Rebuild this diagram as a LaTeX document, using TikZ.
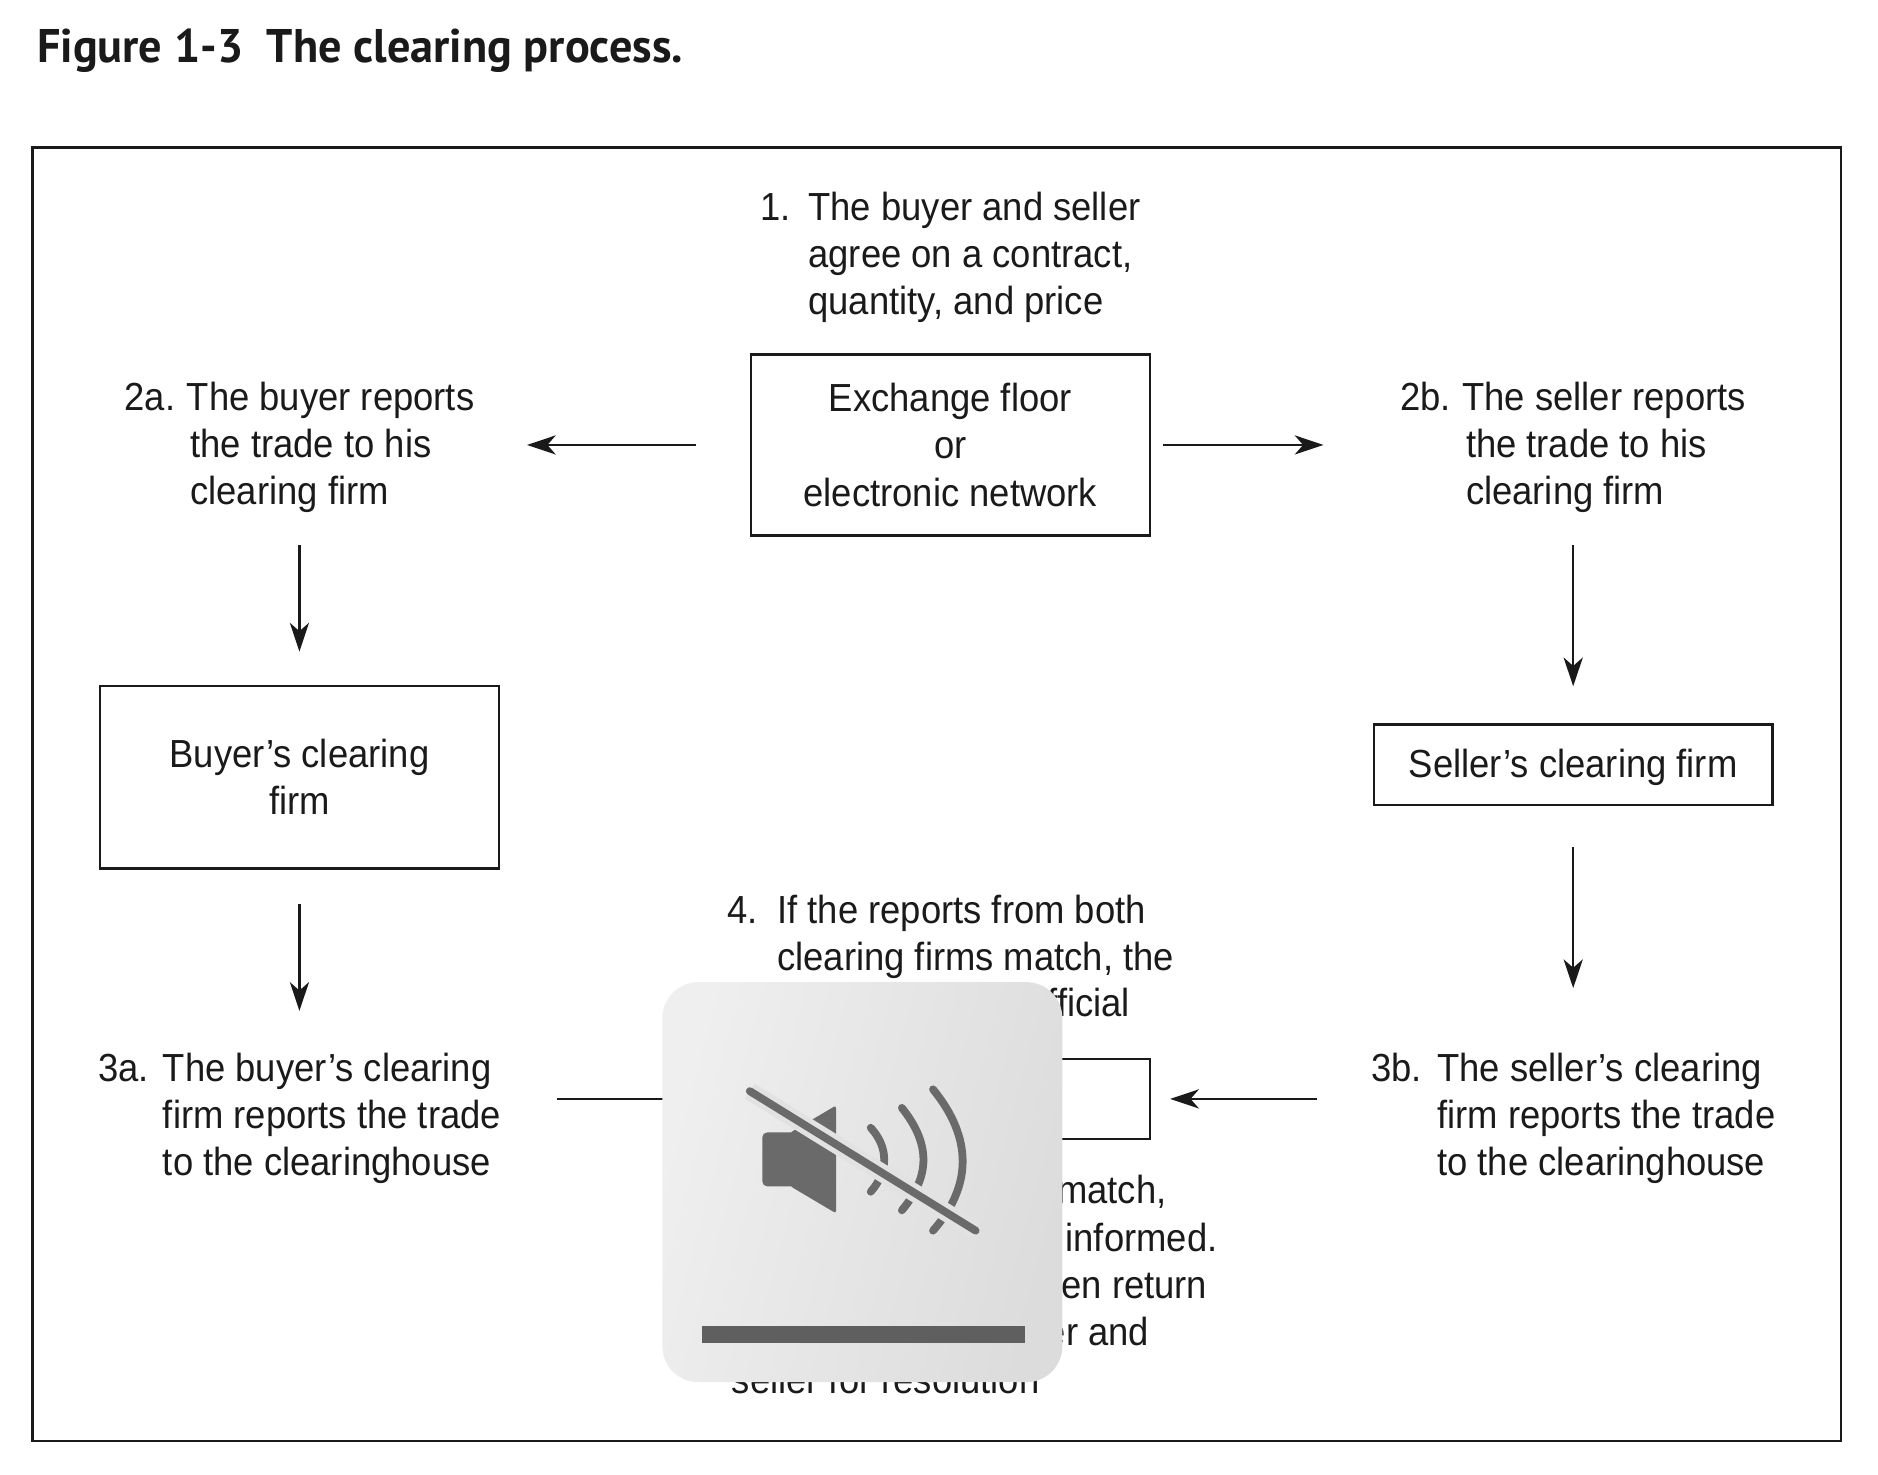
\documentclass[tikz,border=0pt]{standalone}
\usepackage{fontspec}
\setmainfont[FakeStretch=0.93]{Liberation Sans}
\newfontfamily\titlefont[FakeStretch=0.98]{PT Sans}
\usetikzlibrary{arrows.meta}
\definecolor{ink}{HTML}{1A1A1A}
\definecolor{hudicon}{HTML}{6A6A6A}
\definecolor{hudbar}{HTML}{5F5F5F}
\definecolor{hudgap}{HTML}{E2E2E2}
\definecolor{hudlight}{HTML}{EFEFEF}
\definecolor{hudmid}{HTML}{E1E1E1}
\definecolor{huddark}{HTML}{DCDCDC}
\tikzset{
  x=1pt,y=-1pt,
  every node/.style={text=ink,inner sep=0pt,outer sep=0pt,font=\fontsize{32.7}{39.3}\selectfont},
  txt/.style={anchor=north west,align=left},
  cbox/.style={draw=ink,line width=2pt,align=center,minimum width=333pt},
  arr/.style={draw=ink,line width=2pt,-{Stealth[length=24pt,width=16pt,inset=7pt]}},
  frag/.style={anchor=east},
  icon/.style={draw=hudicon,line width=6.5pt,line cap=round},
}
\newcommand{\hangb}[1]{\hspace*{#1pt}}
\begin{document}
\begin{tikzpicture}
\useasboundingbox (0,0) rectangle (1568,1230.7);
\node[anchor=west,font=\titlefont\bfseries\fontsize{39.4}{44}\selectfont] (title) at (31,42) {Figure 1-3\hspace{0.5em}The clearing process.};
\node[draw=ink,line width=2pt,minimum width=1510pt,minimum height=1080pt,anchor=north west] (frame) at (27,123) {};

\node[txt] (t1) at (635,160) {\makebox[40pt][l]{1.}The buyer and seller\\\hangb{40}agree on a contract,\\\hangb{40}quantity, and price};
\node[cbox,minimum height=151pt] (ex) at (793.5,371.5) {Exchange floor\\or\\electronic network};

\node[txt] (t2a) at (104,319) {\makebox[52pt][l]{2a.}The buyer reports\\\hangb{55}the trade to his\\\hangb{55}clearing firm};
\node[txt] (t2b) at (1169,319) {\makebox[52pt][l]{2b.}The seller reports\\\hangb{55}the trade to his\\\hangb{55}clearing firm};

\node[cbox,minimum height=152pt] (buyer) at (250,649) {\raisebox{1pt}{Buyer’s clearing}\\\raisebox{1pt}{firm}};
\node[cbox,minimum height=67pt] (seller) at (1313.5,638.5) {\raisebox{-11pt}[0pt][0pt]{Seller’s clearing firm}};

\node[txt] (t3a) at (82,879) {\makebox[54pt][l]{3a.}The buyer’s clearing\\\hangb{54}firm reports the trade\\\hangb{54}to the clearinghouse};
\node[txt] (t3b) at (1145,879) {\makebox[55pt][l]{3b.}The seller’s clearing\\\hangb{55}firm reports the trade\\\hangb{55}to the clearinghouse};

\node[cbox,minimum height=67pt] (clear) at (793.5,917.5) {};

\node[txt] (t4) at (607,747) {\makebox[42pt][l]{4.}If the reports from both\\\hangb{42}clearing firms match, the};
\node[frag] (f1) at (943.5,837) {fficial};
\node[frag] (f2) at (974,995) {match,};
\node[frag] (f3) at (1016.5,1033) {informed.};
\node[frag] (f4) at (1008,1074) {en return};
\node[frag] (f5) at (959.5,1112) {er and};
\node[anchor=center] (f6) at (739.5,1152) {seller for resolution};

\draw[arr,shorten <=46pt,shorten >=44pt] (ex.west) -- (t2a.east |- ex.west);
\draw[arr,shorten <=11pt,shorten >=64pt] (ex.east) -- (t2b.west |- ex.east);
\draw[arr,shorten <=27pt,shorten >=29pt] (t2a.south -| buyer.north) -- (buyer.north);
\draw[arr,shorten <=27pt,shorten >=32pt] (t2b.south -| seller.north) -- (seller.north);
\draw[arr,shorten <=30pt,shorten >=35pt] (buyer.south) -- (t3a.north -| buyer.south);
\draw[arr,shorten <=35pt,shorten >=54pt] (seller.south) -- (t3b.north -| seller.south);
\draw[arr,shorten <=45pt,shorten >=17pt] (t3b.west |- clear.east) -- (clear.east);
\draw[arr,shorten <=47pt,shorten >=17pt] (t3a.east |- clear.west) -- (clear.west);

% muted-volume overlay
\shade[rounded corners=30pt,left color=hudlight,middle color=hudmid,right color=huddark,shading angle=75] (553,820) rectangle (887,1154);
\fill[hudicon,rounded corners=4pt] (636.5,945.5) -- (668,945.5) -- (668,990.5) -- (636.5,990.5) -- cycle;
\fill[hudicon,rounded corners=2pt] (660,945.5) -- (698,923) -- (698,1013) -- (660,990.5) -- cycle;
\draw[icon] (779,909.5) .. controls (812,950) and (812,990) .. (779,1027.5);
\draw[icon] (753,925) .. controls (777,955) and (777,982) .. (753,1010.5);
\draw[icon] (727,941.6) .. controls (742,958) and (742,978) .. (727,995);
\draw[hudgap,line width=15pt] (626,911) -- (814.6,1027.5);
\draw[icon] (626,911) -- (814.6,1027.5);
\fill[hudbar] (586,1107) rectangle (855.5,1121);
\end{tikzpicture}
\end{document}
